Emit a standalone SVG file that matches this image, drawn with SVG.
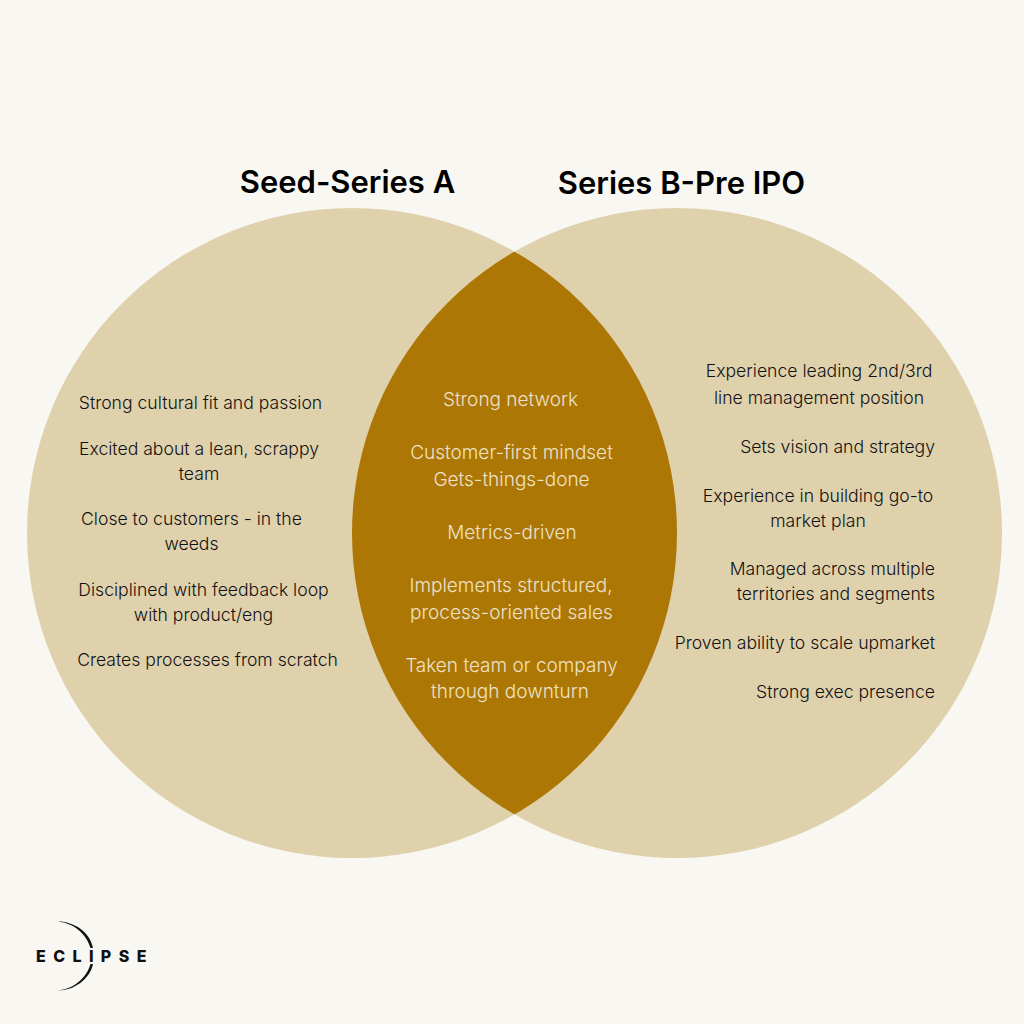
<svg xmlns="http://www.w3.org/2000/svg" width="1024" height="1024" viewBox="0 0 1024 1024">
<defs><style>
.t{font-family:"Inter","Noto Sans","Liberation Sans",sans-serif;font-size:17.6px;font-weight:300;fill:#111}
.c{fill:#e0d1ad}
.m{text-anchor:middle}
.e{text-anchor:end}
.w{font-family:"Inter","Noto Sans","Liberation Sans",sans-serif;font-size:19px;font-weight:300;fill:#eee2c8;text-anchor:middle}
.h{font-family:"Inter","Noto Sans","Liberation Sans",sans-serif;font-size:31px;font-weight:600;fill:#000;text-anchor:middle}
</style>
<clipPath id="clipL"><circle cx="352" cy="533" r="325"/></clipPath></defs>
<rect width="1024" height="1024" fill="#f8f7f2"/>
<g id="circle-left"><circle class="c" cx="352" cy="533" r="325"/></g>
<g id="circle-right"><circle class="c" cx="677" cy="533" r="325"/></g>
<g id="overlap"><circle cx="677" cy="533" r="325" fill="#ac7705" clip-path="url(#clipL)"/></g>
<g id="headings">
<text class="h" x="347.500" y="193">Seed-Series A</text>
<text class="h" x="681.500" y="194">Series B-Pre IPO</text>
</g>
<g id="left-text">
<text class="t m" x="200.500" y="409">Strong cultural fit and passion</text>
<text class="t m" x="199" y="455">Excited about a lean, scrappy</text>
<text class="t m" x="199" y="480">team</text>
<text class="t m" x="191.500" y="525">Close to customers - in the</text>
<text class="t m" x="191.500" y="550">weeds</text>
<text class="t m" x="203.500" y="596">Disciplined with feedback loop</text>
<text class="t m" x="203.500" y="621">with product/eng</text>
<text class="t m" x="207.500" y="666">Creates processes from scratch</text>
</g>
<g id="center-text">
<text class="w" x="510.500" y="406">Strong network</text>
<text class="w" x="511.500" y="459">Customer-first mindset</text>
<text class="w" x="511.500" y="486">Gets-things-done</text>
<text class="w" x="512" y="539">Metrics-driven</text>
<text class="w" x="511" y="592">Implements structured,</text>
<text class="w" x="511.500" y="619">process-oriented sales</text>
<text class="w" x="511.500" y="672">Taken team or company</text>
<text class="w" x="510" y="698">through downturn</text>
</g>
<g id="right-text">
<text class="t m" x="819" y="377">Experience leading 2nd/3rd</text>
<text class="t m" x="819" y="404">line management position</text>
<text class="t e" x="935" y="453">Sets vision and strategy</text>
<text class="t m" x="818" y="502">Experience in building go-to</text>
<text class="t m" x="818" y="527">market plan</text>
<text class="t e" x="935" y="575">Managed across multiple</text>
<text class="t e" x="935" y="600">territories and segments</text>
<text class="t e" x="935" y="649">Proven ability to scale upmarket</text>
<text class="t e" x="935" y="698">Strong exec presence</text>
</g>
<g id="logo" fill="#111">
<path d="M58 921.500 C74 921.500 90 932 93 948 L90.500 948 C86 933 73 923 58 921.500Z"/>
<path d="M93 964 C90 979 74 990.500 58 990.500 C73 989 86 979 90.500 964Z"/>
<text x="36" y="962" font-family="Inter,'Liberation Sans',sans-serif" font-size="16" font-weight="800" letter-spacing="7.4">ECLIPSE</text>
</g>
</svg>
